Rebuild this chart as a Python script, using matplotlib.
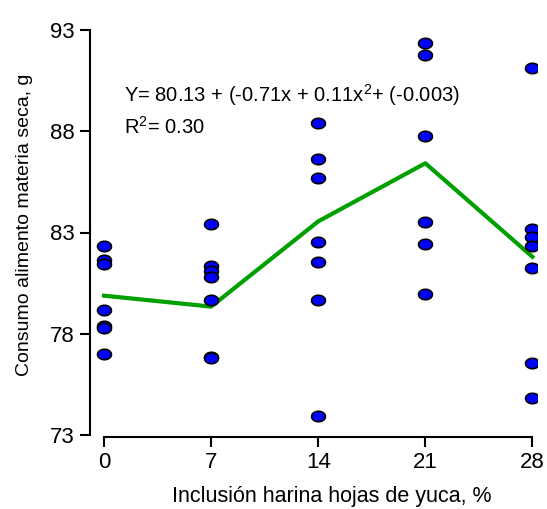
import numpy as np
import matplotlib
matplotlib.use("Agg")
import matplotlib.pyplot as plt
from matplotlib.path import Path

plt.rcParams['font.family'] = ['Liberation Sans', 'DejaVu Sans']
plt.rcParams['mathtext.fontset'] = 'custom'
plt.rcParams['mathtext.rm'] = 'Liberation Sans'

# niveles de inclusion (%)
niveles = [0, 7, 14, 21, 28]
# observaciones individuales por nivel
obs_0 = [82.33, 81.64, 81.44, 79.17, 78.38, 78.28, 77.0]
obs_7 = [83.42, 81.35, 81.11, 80.82, 79.67, 76.87, 76.8]
obs_14 = [88.41, 86.63, 85.69, 82.53, 81.54, 79.67, 73.94]
obs_21 = [92.34, 91.77, 87.77, 83.53, 82.43, 79.95]
obs_28 = [91.14, 83.16, 82.8, 82.33, 81.23, 76.54, 74.81]
# medias (linea verde)
medias = [79.88, 79.34, 83.55, 86.42, 81.8]

eq_text = r'Y= 80.13 + (-0.71x + 0.11x$^{\mathregular{2}}$+ (-0.003)'
r2_text = r'R$^{\mathregular{2}}$= 0.30'

fig = plt.figure(figsize=(5.47, 5.09), dpi=100)
W, H = 547, 509
ax = fig.add_axes([90 / W, (H - 437) / H, (537 - 90) / W, (437 - 28) / H])

# marcador eliptico
t = np.linspace(0, 2 * np.pi, 60)
elipse = Path(np.column_stack([np.cos(t), 0.75 * np.sin(t)]))

for xv, ys in zip(niveles, [obs_0, obs_7, obs_14, obs_21, obs_28]):
    ax.plot([xv] * len(ys), ys, linestyle='none', marker=elipse, markersize=10,
            markerfacecolor='#0000FF', markeredgecolor='black', markeredgewidth=1.2,
            zorder=3)

ax.plot(niveles, medias, color='#00A000', linewidth=3, zorder=2)

ax.set_xlim(-0.92, 28.3)
ax.set_ylim(72.9, 93.1)
ax.set_xticks(niveles)
ax.set_yticks([73, 78, 83, 88, 93])
ax.spines['top'].set_visible(False)
ax.spines['right'].set_visible(False)
ax.spines['bottom'].set_bounds(0, 28)
ax.spines['left'].set_bounds(73, 93)
for s in ['left', 'bottom']:
    ax.spines[s].set_linewidth(1.5)
ax.tick_params(direction='out', length=7, width=1.5, labelsize=16, pad=4)

ax.set_ylabel('Consumo alimento materia seca, g', fontsize=14)
ax.yaxis.set_label_coords(-0.128, 0.52)
ax.set_xlabel('Inclusión harina hojas de yuca, %', fontsize=15.5)
ax.xaxis.set_label_coords(0.54, -0.12)

ax.text(124 / W, 1 - 95 / H, eq_text, transform=fig.transFigure, fontsize=14.5,
        va='center', ha='left')
ax.text(124 / W, 1 - 127 / H, r2_text, transform=fig.transFigure, fontsize=14.5,
        va='center', ha='left')

fig.savefig('out.png', dpi=100)
